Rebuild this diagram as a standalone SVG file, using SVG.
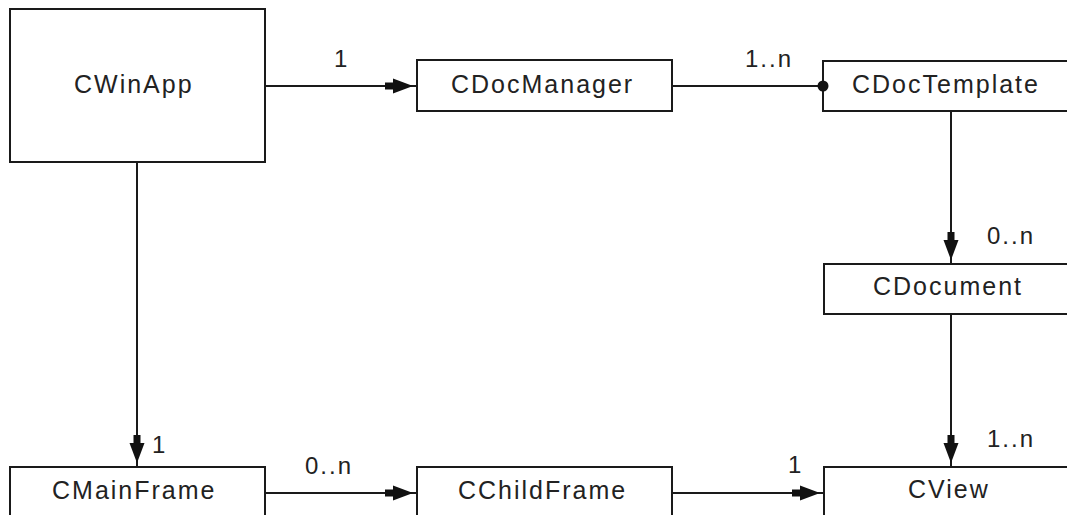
<svg xmlns="http://www.w3.org/2000/svg" width="1067" height="515" viewBox="0 0 1067 515">
  <style>
    .box { fill: #ffffff; stroke: #1a1a1a; stroke-width: 2; }
    .name { font-family: "Liberation Sans", Arial, sans-serif; font-size: 25px; letter-spacing: 2px; fill: #222222; }
    .mult { font-family: "Liberation Sans", Arial, sans-serif; font-size: 24px; letter-spacing: 2px; fill: #222222; }
    .link { fill: none; stroke: #1a1a1a; stroke-width: 2; }
  </style>
  <defs>
    <marker id="arrow" viewBox="0 0 32 16" refX="32" refY="8" markerWidth="32" markerHeight="16" markerUnits="userSpaceOnUse" orient="auto">
      <path d="M0,4.5 H8 V0.5 L28,8 L8,15.5 V11.5 H0 Z" fill="#111111"/>
    </marker>
  </defs>
  <rect width="1067" height="515" fill="#ffffff"/>

  <g id="CWinApp">
    <rect class="box" x="10" y="9" width="255" height="153"/>
    <text class="name" x="74" y="93">CWinApp</text>
  </g>
  <g id="CDocManager">
    <rect class="box" x="417" y="60" width="255" height="51"/>
    <text class="name" x="451" y="93">CDocManager</text>
  </g>
  <g id="CDocTemplate">
    <rect class="box" x="823" y="61" width="257" height="50"/>
    <text class="name" x="852" y="93">CDocTemplate</text>
  </g>
  <g id="CDocument">
    <rect class="box" x="824" y="264" width="256" height="50"/>
    <text class="name" x="873" y="295">CDocument</text>
  </g>
  <g id="CMainFrame">
    <rect class="box" x="10" y="467" width="255" height="63"/>
    <text class="name" x="52" y="499">CMainFrame</text>
  </g>
  <g id="CChildFrame">
    <rect class="box" x="417" y="467" width="255" height="63"/>
    <text class="name" x="458" y="499">CChildFrame</text>
  </g>
  <g id="CView">
    <rect class="box" x="824" y="467" width="256" height="63"/>
    <text class="name" x="908" y="498">CView</text>
  </g>

  <g id="connectors">
    <path class="link" d="M265,86 H417" marker-end="url(#arrow)"/>
    <path class="link" d="M672,86 H823"/>
    <circle cx="823" cy="86" r="5.5" fill="#111111"/>
    <path class="link" d="M951,111 V264" marker-end="url(#arrow)"/>
    <path class="link" d="M951,314 V467" marker-end="url(#arrow)"/>
    <path class="link" d="M137,162 V467" marker-end="url(#arrow)"/>
    <path class="link" d="M265,493 H417" marker-end="url(#arrow)"/>
    <path class="link" d="M672,493 H824" marker-end="url(#arrow)"/>
    <text class="mult" x="334" y="67">1</text>
    <text class="mult" x="745" y="67">1..n</text>
    <text class="mult" x="987" y="244">0..n</text>
    <text class="mult" x="987" y="447">1..n</text>
    <text class="mult" x="152" y="453">1</text>
    <text class="mult" x="305" y="474">0..n</text>
    <text class="mult" x="788" y="473">1</text>
  </g>
</svg>
